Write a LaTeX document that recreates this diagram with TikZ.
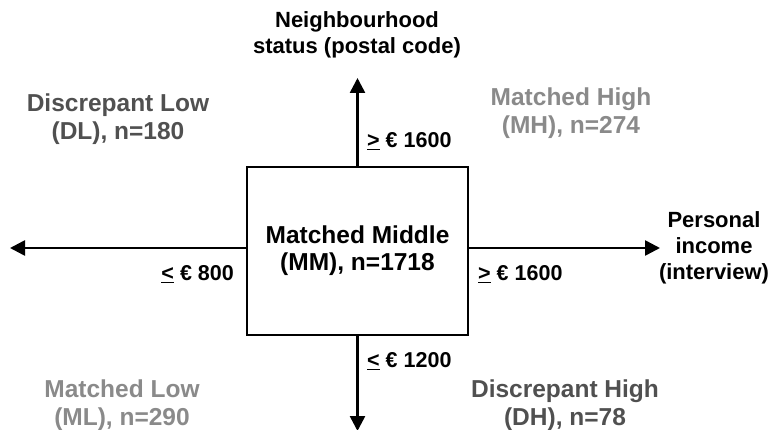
\documentclass[tikz,border=0pt]{standalone}
\usepackage{fontspec}
\setmainfont{Liberation Sans}
\usetikzlibrary{arrows.meta}
\definecolor{darkg}{HTML}{505050}
\definecolor{lightg}{HTML}{8A8A8A}
\tikzset{
  corner/.style={font=\bfseries\fontsize{24.5}{27.5}\selectfont, align=center, inner sep=0pt},
  axistitle/.style={font=\bfseries\fontsize{22}{26}\selectfont, align=center, inner sep=0pt},
  thresh/.style={font=\bfseries\fontsize{21.5}{24}\selectfont, inner sep=0pt},
  axis/.style={line width=2.6pt, -{Triangle[width=15pt,length=15pt]}},
}
\begin{document}
\begin{tikzpicture}[x=1pt,y=-1pt]
\useasboundingbox (0,0) rectangle (783,430);
\node[draw, line width=2.4pt, minimum width=221pt, minimum height=168pt, inner sep=0pt,
      font=\bfseries\fontsize{24.5}{27}\selectfont, align=center] (mm) at (357.5,251)
      {Matched Middle\\(MM), n=1718};
\coordinate (topend) at (357.5,78);
\coordinate (botend) at (357.5,431);
\coordinate (leftend) at (10,248);
\coordinate (rightend) at (660,248);
\draw[axis] (mm.north) -- (topend);
\draw[axis] (mm.south) -- (botend);
\draw[axis] (mm.west |- leftend) -- (leftend);
\draw[axis] (mm.east |- rightend) -- (rightend);
\node[axistitle] (ytitle) at (357,35) {Neighbourhood\\status (postal code)};
\node[axistitle] (xtitle) at (714,248) {Personal\\income\\(interview)};
\node[thresh, anchor=west] (t1) at (367,141) {\underline{>} € 1600};
\node[thresh, anchor=west] (t2) at (367,361) {\underline{<} € 1200};
\node[thresh, anchor=east] (t3) at (234,274) {\underline{<} € 800};
\node[thresh, anchor=west] (t4) at (478,274) {\underline{>} € 1600};
\node[corner, text=darkg] (dl) at (118,119) {Discrepant Low\\(DL), n=180};
\node[corner, text=lightg] (mh) at (571,113) {Matched High\\(MH), n=274};
\node[corner, text=lightg] (ml) at (122,405) {Matched Low\\(ML), n=290};
\node[corner, text=darkg] (dh) at (565,405) {Discrepant High\\(DH), n=78};
\end{tikzpicture}
\end{document}
